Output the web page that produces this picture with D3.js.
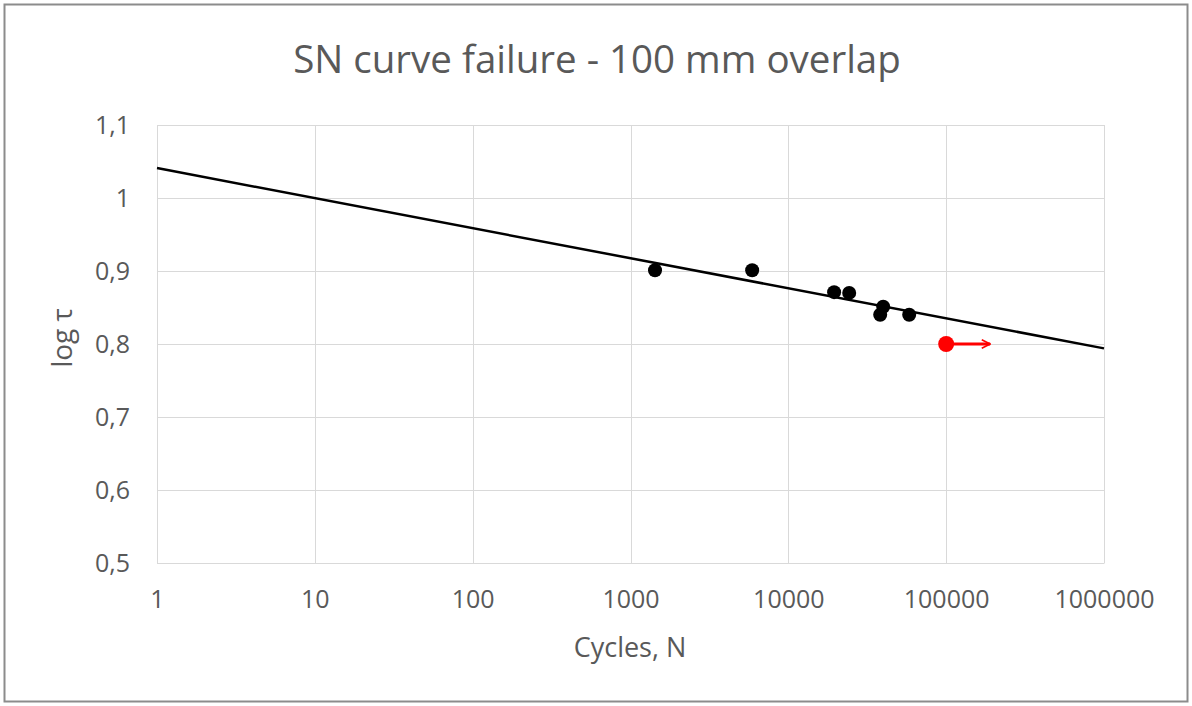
<!DOCTYPE html>
<html><head><meta charset="utf-8">
<script src="https://cdn.jsdelivr.net/npm/d3@7"></script>
<style>body{margin:0;background:#fff}svg{display:block}</style>
</head><body>
<svg id="c" width="1192" height="706"></svg>
<script>
const title = "SN curve failure - 100 mm overlap";
const xTicks = [1, 10, 100, 1000, 10000, 100000, 1000000];
const yTicks = [0.5, 0.6, 0.7, 0.8, 0.9, 1.0, 1.1];
const testN = [1430, 5900, 19500, 24300, 39900, 38200, 58300];
const testLogTau = [0.901, 0.901, 0.871, 0.870, 0.851, 0.840, 0.840];
const runoutN = [100000];
const runoutLogTau = [0.800];
const runoutArrowEnd = [190000];
const fitN = [1, 1000000];
const fitLogTau = [1.041, 0.794];

const svg = d3.select("#c");
const W = 1192, H = 706;
const m = {l:157, r:1104, t:125, b:563};
const x = d3.scaleLog().domain([1, 1000000]).range([m.l, m.r]);
const y = d3.scaleLinear().domain([0.5, 1.1]).range([m.b, m.t]);
const font = "'Open Sans', 'Liberation Sans', sans-serif";
const txt = "#595959";

svg.append("rect").attr("x",0).attr("y",0).attr("width",W).attr("height",H).attr("fill","#fff");
svg.append("rect").attr("x",4.5).attr("y",4.5).attr("width",W-9).attr("height",H-9)
  .attr("fill","none").attr("stroke","#8c8c8c").attr("stroke-width",2);

// gridlines
svg.append("g").selectAll("line").data(yTicks).join("line")
  .attr("x1",m.l).attr("x2",m.r).attr("y1",d=>Math.round(y(d))+0.5).attr("y2",d=>Math.round(y(d))+0.5)
  .attr("stroke","#d9d9d9").attr("stroke-width",1);
svg.append("g").selectAll("line").data(xTicks).join("line")
  .attr("y1",m.t).attr("y2",m.b).attr("x1",d=>Math.round(x(d))+0.5).attr("x2",d=>Math.round(x(d))+0.5)
  .attr("stroke","#d9d9d9").attr("stroke-width",1);

// axes via d3
const fmtY = d => d3.format(".1f")(d).replace(".", ",").replace(/^1,0$/, "1");
const yAxis = svg.append("g").attr("transform",`translate(${m.l},0)`)
  .call(d3.axisLeft(y).tickValues(yTicks).tickFormat(fmtY).tickSize(0).tickPadding(27));
yAxis.select(".domain").attr("stroke","#d9d9d9");
yAxis.selectAll("text").attr("fill",txt).style("font-family",font).style("font-size","25px");

const xAxis = svg.append("g").attr("transform",`translate(0,${m.b})`)
  .call(d3.axisBottom(x).tickValues(xTicks).tickFormat(d3.format("d")).tickSize(0).tickPadding(27));
xAxis.select(".domain").attr("stroke","#d9d9d9");
xAxis.selectAll("text").attr("fill",txt).style("font-family",font).style("font-size","25px");

// fitted line
const fit = fitN.map((n,i)=>[n, fitLogTau[i]]);
svg.append("path").datum(fit)
  .attr("d", d3.line().x(d=>x(d[0])).y(d=>y(d[1])))
  .attr("stroke","#000").attr("stroke-width",2.5).attr("fill","none");

// test points
const pts = testN.map((n,i)=>[n, testLogTau[i]]);
svg.append("g").selectAll("circle").data(pts).join("circle")
  .attr("cx",d=>x(d[0])).attr("cy",d=>y(d[1])).attr("r",7).attr("fill","#000");

// run-out
svg.append("defs").append("marker").attr("id","arr").attr("viewBox","0 0 10 10")
  .attr("refX",9).attr("refY",5).attr("markerWidth",3.5).attr("markerHeight",3.5).attr("orient","auto")
  .append("path").attr("d","M1,1 L9,5 L1,9").attr("fill","none").attr("stroke","#ff0000").attr("stroke-width",1.5);
const ro = runoutN.map((n,i)=>[n, runoutLogTau[i], runoutArrowEnd[i]]);
svg.append("g").selectAll("line").data(ro).join("line")
  .attr("x1",d=>x(d[0])).attr("x2",d=>x(d[2])).attr("y1",d=>y(d[1])).attr("y2",d=>y(d[1]))
  .attr("stroke","#ff0000").attr("stroke-width",3).attr("marker-end","url(#arr)");
svg.append("g").selectAll("circle").data(ro).join("circle")
  .attr("cx",d=>x(d[0])).attr("cy",d=>y(d[1])).attr("r",8).attr("fill","#ff0000");

// titles
svg.append("text").attr("x",597).attr("y",73).attr("text-anchor","middle")
  .attr("fill",txt).style("font-family",font).style("font-size","38.5px").text(title);
svg.append("text").attr("x",630).attr("y",657).attr("text-anchor","middle")
  .attr("fill",txt).style("font-family",font).style("font-size","27px").text("Cycles, N");
svg.append("text").attr("transform","translate(72,338) rotate(-90)").attr("text-anchor","middle")
  .attr("fill",txt).style("font-family",font).style("font-size","28px").text("log τ");
</script>
</body></html>
